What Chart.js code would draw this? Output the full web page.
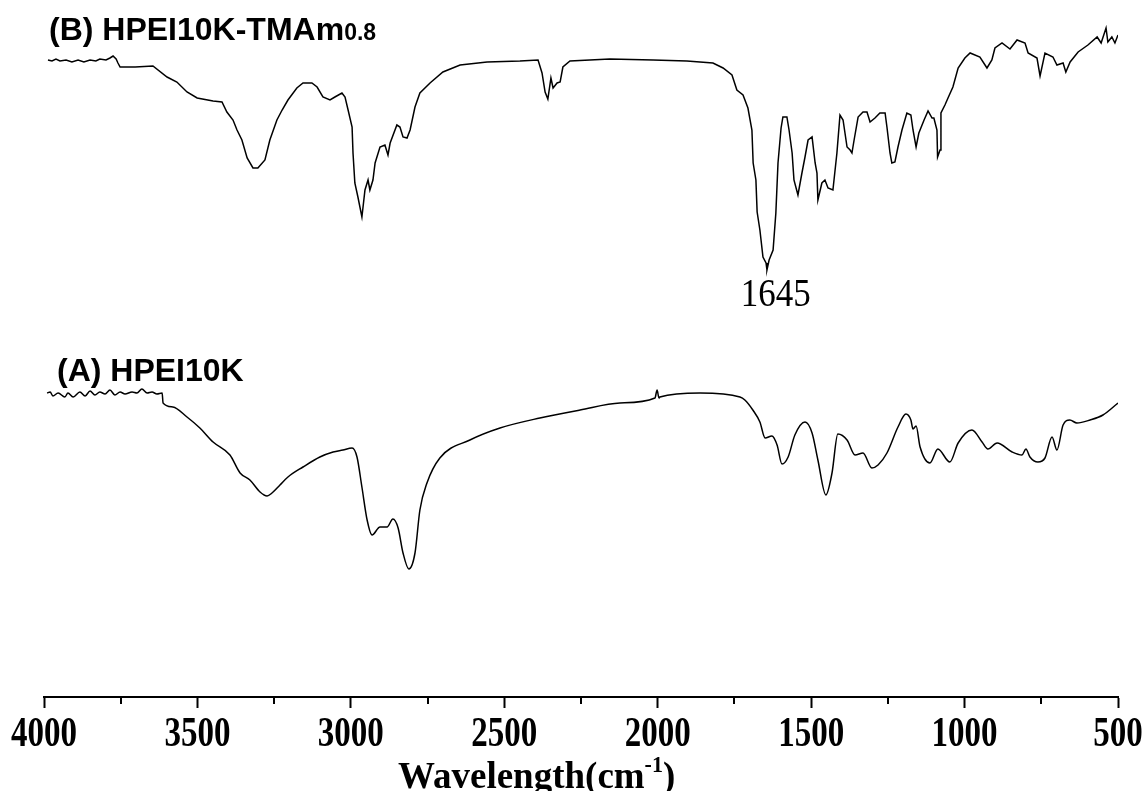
<!DOCTYPE html>
<html lang="en">
<head>
<meta charset="UTF-8">
<title>FTIR spectra HPEI10K</title>
<script src="https://cdn.jsdelivr.net/npm/chart.js"></script>
<style>
  html, body { margin: 0; padding: 0; background: #fff; }
  #wrap { width: 1148px; height: 791px; position: relative; }
</style>
</head>
<body>
<div id="wrap"><canvas id="spectra"></canvas></div>
<script>
// (B) HPEI10K-TMAm0.8 - wavenumber (cm-1) and transmittance (a.u., offset trace)
const bWave = [3987,3974,3961,3948,3928,3909,3889,3870,3850,3831,
  3818,3798,3785,3775,3765,3759,3752,3703,3645,3599,
  3567,3534,3501,3449,3420,3404,3384,3371,3355,3338,
  3319,3303,3280,3264,3241,3224,3205,3176,3156,3127,
  3110,3091,3068,3052,3029,3019,3009,2996,2993,2987,
  2977,2964,2954,2944,2938,2928,2921,2905,2889,2879,
  2872,2850,2840,2830,2817,2807,2791,2775,2742,2700,
  2644,2556,2449,2390,2377,2367,2358,2348,2341,2328,
  2318,2309,2286,2156,2015,1905,1820,1787,1758,1742,
  1722,1706,1693,1689,1680,1676,1667,1657,1647,1644,
  1637,1624,1615,1608,1598,1592,1579,1572,1562,1556,
  1543,1530,1520,1510,1497,1487,1481,1478,1465,1455,
  1445,1429,1416,1406,1396,1383,1373,1367,1360,1347,
  1331,1318,1308,1292,1276,1259,1253,1243,1237,1227,
  1217,1204,1188,1175,1168,1158,1149,1132,1119,1106,
  1100,1090,1088,1080,1077,1064,1054,1038,1021,999,
  982,950,927,911,901,878,852,829,803,793,
  764,754,738,712,699,679,670,656,630,598,
  568,555,539,533,520,510,500];
const bSignal = [637,636,638,636,637,635,637,635,637,636,
  638,637,639,641,638,634,630,630,631,620,
  615,605,599,596,595,585,577,567,557,539,
  529,529,537,557,577,587,597,609,614,614,
  610,600,597,600,604,600,587,570,544,514,
  500,480,507,517,507,517,534,550,552,542,
  554,572,570,560,559,567,590,604,614,625,
  632,635,636,637,624,605,598,619,609,614,
  615,630,636,638,637,636,634,629,622,607,
  602,589,567,534,517,485,467,440,434,427,
  437,447,484,534,569,580,580,567,544,517,
  502,524,540,557,560,534,524,497,514,517,
  509,507,544,582,577,550,547,544,557,580,
  585,585,575,579,584,584,570,544,534,535,
  550,567,584,582,567,550,564,577,586,579,
  579,567,540,547,584,592,599,610,629,639,
  644,640,629,637,649,654,648,657,654,644,
  639,621,644,640,632,634,625,635,645,652,
  660,654,669,655,660,654,662];

// (A) HPEI10K
const aWave = [3990,3980,3971,3954,3932,3922,3905,3883,3866,3850,
  3834,3818,3801,3785,3769,3752,3736,3713,3697,3681,
  3664,3648,3632,3615,3612,
  3580,3534,3492,3449,3394,3361,3329,3296,3273,3257,
  3231,3205,3156,3101,3058,3026,2996,2980,2964,2947,
  2931,2905,2882,2863,2846,2830,2811,2791,2775,2752,
  2710,2612,2514,2384,2253,2123,2009,2002,1996,1993,
  1862,1732,1716,1690,1667,1650,1628,1611,1595,1575,
  1553,1520,1497,1478,1452,1432,1413,1383,1357,1331,
  1302,1282,1253,1217,1191,1175,1168,1158,1145,1113,
  1087,1048,1021,976,943,924,894,845,813,800,
  787,761,738,715,699,679,657,634,591,549,
  500];
const aSignal = [304,305,301,304,300,304,300,305,301,306,
  302,305,303,307,302,305,303,305,304,308,
  304,305,303,304,294,
  290,280,269,255,242,224,217,205,201,204,
  212,220,230,240,245,247,249,240,210,177,
  162,170,170,178,169,144,128,144,187,214,
  239,257,269,279,287,294,299,307,299,300,
  304,300,297,287,275,259,261,252,233,240,
  262,275,264,237,202,224,263,257,242,244,
  229,232,244,270,283,277,268,271,250,234,
  248,235,254,267,255,248,254,245,242,248,
  240,235,239,260,247,272,277,274,277,282,
  294];

const minorTicks = [3750, 3250, 2750, 2250, 1750, 1250, 750];
const traceNames = ['(B) HPEI10K-TMAm', '0.8', '(A) HPEI10K'];
const peakMark = { wave: 1645, text: '1645' };
const axisTitle = ['Wavelength(cm', '-1', ')'];

function toPoints(xs, ys) {
  return xs.map((x, i) => ({ x: x, y: ys[i] }));
}

// draw text with an independent vertical stretch
function putText(ctx, text, x, y, font, sy, align) {
  ctx.save();
  ctx.font = font;
  ctx.textAlign = align || 'left';
  ctx.textBaseline = 'alphabetic';
  ctx.translate(x, y);
  ctx.scale(1, sy);
  ctx.fillText(text, 0, 0);
  const w = ctx.measureText(text).width;
  ctx.restore();
  return w;
}

const ftirText = {
  id: 'ftirText',
  afterDraw(chart) {
    const ctx = chart.ctx;
    const xs = chart.scales.x;
    const bottom = chart.chartArea.bottom;
    ctx.save();
    ctx.fillStyle = '#000';
    ctx.strokeStyle = '#000';
    ctx.lineWidth = 2;

    minorTicks.forEach(v => {
      const px = Math.round(xs.getPixelForValue(v));
      ctx.beginPath();
      ctx.moveTo(px, bottom);
      ctx.lineTo(px, bottom + 7);
      ctx.stroke();
    });

    xs.ticks.forEach(t => {
      putText(ctx, String(t.value), xs.getPixelForValue(t.value), bottom + 49,
        'bold 33px "Liberation Serif"', 1.28, 'center');
    });

    // axis title with superscript
    let tx = 398;
    const ty = 788;
    tx += putText(ctx, axisTitle[0], tx, ty, 'bold 37px "Liberation Serif"', 1.05, 'left');
    tx += putText(ctx, axisTitle[1], tx, ty - 16, 'bold 22px "Liberation Serif"', 1.05, 'left');
    putText(ctx, axisTitle[2], tx, ty, 'bold 37px "Liberation Serif"', 1.05, 'left');

    // trace labels
    let lx = 49;
    lx += putText(ctx, traceNames[0], lx, 40, 'bold 32px "Liberation Sans"', 1, 'left');
    putText(ctx, traceNames[1], lx, 40, 'bold 23px "Liberation Sans"', 1, 'left');
    putText(ctx, traceNames[2], 57, 381, 'bold 32px "Liberation Sans"', 1, 'left');

    // peak annotation
    putText(ctx, peakMark.text, xs.getPixelForValue(peakMark.wave) + 9, 306,
      '35px "Liberation Serif"', 1.14, 'center');
    ctx.restore();
  }
};

new Chart(document.getElementById('spectra'), {
  type: 'line',
  data: {
    datasets: [
      {
        label: 'HPEI10K-TMAm0.8',
        data: toPoints(bWave, bSignal),
        borderColor: '#000',
        borderWidth: 1.5,
        pointRadius: 0,
        tension: 0
      },
      {
        label: 'HPEI10K',
        data: toPoints(aWave, aSignal),
        borderColor: '#000',
        borderWidth: 1.5,
        pointRadius: 0,
        cubicInterpolationMode: 'monotone'
      }
    ]
  },
  options: {
    responsive: true,
    maintainAspectRatio: false,
    animation: false,
    layout: { padding: { left: 44, right: 30, top: 0, bottom: 0 } },
    plugins: {
      legend: { display: false },
      tooltip: { enabled: false }
    },
    scales: {
      x: {
        type: 'linear',
        reverse: true,
        min: 500,
        max: 4000,
        ticks: { display: false, stepSize: 500 },
        grid: {
          drawOnChartArea: false,
          drawTicks: true,
          tickLength: 11,
          tickWidth: 2,
          tickColor: '#000'
        },
        border: { display: true, color: '#000', width: 2 },
        afterFit: s => { s.height = 94; }
      },
      y: {
        display: false,
        min: 0,
        max: 697
      }
    }
  },
  plugins: [ftirText]
});
</script>
</body>
</html>
